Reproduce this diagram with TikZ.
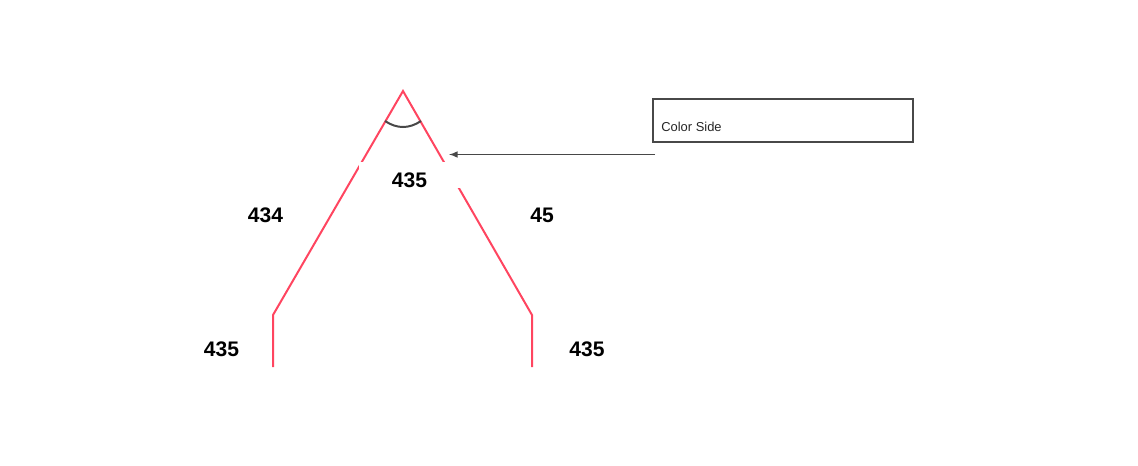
\documentclass[tikz,border=0pt]{standalone}
\usepackage{fontspec}
\setmainfont{Liberation Sans}
\usepackage{xcolor}
\usetikzlibrary{positioning,arrows.meta}
\definecolor{ridgered}{HTML}{FF4560}
\definecolor{boxgray}{HTML}{484848}

\begin{document}
\begin{tikzpicture}[>=latex, x=0.75pt, y=-0.75pt]
    \tikzset{
        panel/.style={draw=ridgered, line width=1.5pt, line join=miter},
        dim/.style={font=\bfseries\fontsize{15.8}{18}\selectfont, inner sep=0pt},
        gapdim/.style={dim, fill=white, minimum width=76.5pt, text height=18.75pt, text depth=0.75pt},
        callout/.style={draw=boxgray, line width=1.5pt, minimum width=195pt, minimum height=32.25pt, inner sep=0pt},
        flow/.style={->, line width=1.2pt, draw=boxgray}
    }
    \useasboundingbox (0,0) rectangle (1138,465);

    \coordinate (leftfoot) at (273,367);
    \coordinate (leftknee) at (273,315);
    \coordinate (apex) at (403,91);
    \coordinate (rightknee) at (532,315);
    \coordinate (rightfoot) at (532,367);
    \coordinate (arcleft) at (385,121);
    \coordinate (arcright) at (421,121);
    \coordinate (flowstart) at (655,154.5);
    \coordinate (flowend) at (449,154.5);

    \draw[panel] (leftfoot) -- (leftknee) -- (apex) -- (rightknee) -- (rightfoot);
    \draw[boxgray, line width=1.5pt] (arcleft) .. controls (397,129) and (409,129) .. (arcright);

    \node[gapdim] (apexdim) at (409.5,175) {435};
    \node[dim] (leftdim) at (265.5,215.5) {434};
    \node[dim] (rightdim) at (542,215.5) {45};
    \node[dim] (leftfootdim) at (221.5,349.5) {435};
    \node[dim] (rightfootdim) at (587,349.5) {435};

    \node[callout] (colorbox) at (783,120.5) {};
    \node[font=\fontsize{9.7}{11}\selectfont, text=black!85, inner sep=0pt, anchor=west] (colorlabel) at (661,127) {Color Side};

    \draw[flow] (flowstart) -- (flowend);
\end{tikzpicture}
\end{document}
